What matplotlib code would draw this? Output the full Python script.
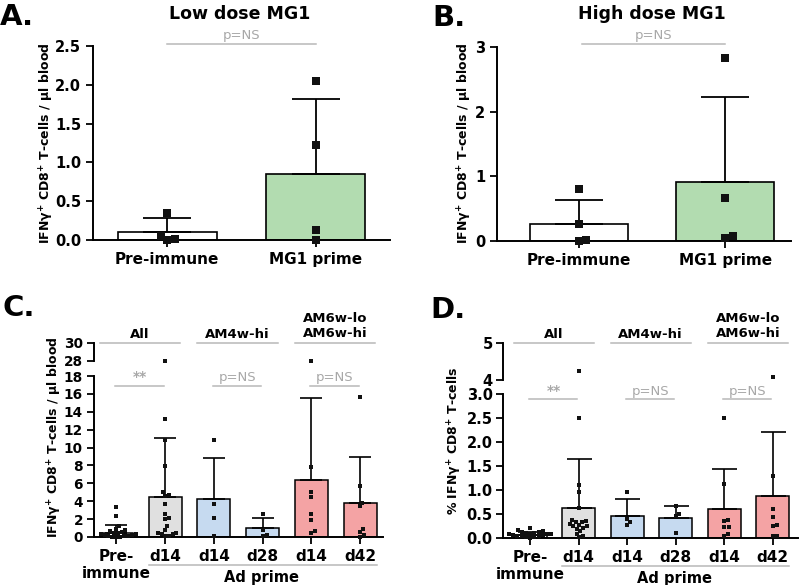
import numpy as np
import matplotlib
matplotlib.use("Agg")
import matplotlib.pyplot as plt
from matplotlib import transforms

plt.rcParams['font.family'] = ['DejaVu Sans']
plt.rcParams['font.weight'] = 'bold'
plt.rcParams['mathtext.fontset'] = 'custom'
plt.rcParams['mathtext.rm'] = 'DejaVu Sans:bold'
plt.rcParams['mathtext.it'] = 'DejaVu Sans:bold'
plt.rcParams['mathtext.bf'] = 'DejaVu Sans:bold'
plt.rcParams['mathtext.default'] = 'rm'

# ---------------- data ----------------
ab_categories = ['Pre-immune', 'MG1 prime']
ab_colors = ['white', '#b2dcb0']
a_title = 'Low dose MG1'
a_means = [0.10, 0.85]
a_sd = [0.18, 0.97]
a_points = [[0.35, 0.05, 0.0, 0.01], [2.05, 1.22, 0.13, 0.0]]
a_yticks = [0.0, 0.5, 1.0, 1.5, 2.0, 2.5]

b_title = 'High dose MG1'
b_means = [0.27, 0.91]
b_sd = [0.37, 1.31]
b_points = [[0.80, 0.27, 0.0, 0.01], [2.83, 0.66, 0.05, 0.07]]
b_yticks = [0, 1, 2, 3]

cd_categories = ['Pre-\nimmune', 'd14', 'd14', 'd28', 'd14', 'd42']
cd_colors = ['white', '#e0e0e0', '#c6daf0', '#c6daf0', '#f4a3a4', '#f4a3a4']
cd_groups = ['All', 'AM4w-hi', 'AM6w-lo\nAM6w-hi']
cd_sig = ['**', 'p=NS', 'p=NS']
cd_bottom_label = 'Ad prime'

c_means = [0.45, 4.45, 4.20, 0.97, 6.38, 3.77]
c_sd = [0.90, 6.65, 4.67, 1.12, 9.12, 5.21]
c_points = [
    [3.4, 2.4, 1.2, 0.85, 0.75, 0.62, 0.55, 0.5, 0.42, 0.38, 0.3, 0.27, 0.2, 0.16, 0.1, 0.07, 0.04, 0.02, 0.0],
    [28.0, 13.2, 10.9, 7.9, 5.0, 4.7, 4.6, 3.7, 2.6, 2.1, 2.0, 1.2, 0.8, 0.5, 0.45, 0.35, 0.3, 0.15, 0.1],
    [10.9, 3.66, 2.09, 0.15],
    [2.57, 0.78, 0.15, 0.26],
    [28.0, 7.83, 5.0, 4.47, 2.54, 1.94, 0.67, 0.4],
    [15.6, 5.74, 3.84, 3.47, 0.86, 0.52, 0.03, 0.2],
]
c_low_ticks = [0, 2, 4, 6, 8, 10, 12, 14, 16, 18]
c_up_ticks = [28, 30]

d_means = [0.075, 0.625, 0.47, 0.43, 0.62, 0.875]
d_sd = [0.05, 1.025, 0.34, 0.24, 0.82, 1.345]
d_points = [
    [0.22, 0.17, 0.15, 0.14, 0.13, 0.12, 0.11, 0.10, 0.10, 0.09, 0.08, 0.07, 0.06, 0.05, 0.05, 0.04, 0.03, 0.02, 0.01],
    [4.25, 2.5, 1.12, 0.97, 0.64, 0.38, 0.37, 0.35, 0.33, 0.30, 0.28, 0.25, 0.25, 0.22, 0.20, 0.15, 0.10, 0.05, 0.02],
    [0.97, 0.40, 0.33, 0.27],
    [0.68, 0.51, 0.46, 0.12],
    [2.5, 1.14, 0.39, 0.36, 0.23, 0.23, 0.10, 0.05],
    [4.07, 1.29, 0.60, 0.44, 0.27, 0.25, 0.04, 0.05],
]
d_low_ticks = [0.0, 0.5, 1.0, 1.5, 2.0, 2.5, 3.0]
d_up_ticks = [4, 5]

ylab_counts = 'IFNγ$^{+}$ CD8$^{+}$ T-cells / µl blood'
ylab_pct = '% IFNγ$^{+}$ CD8$^{+}$ T-cells'

# ---------------- layout helpers ----------------
W, H = 800, 585
fig = plt.figure(figsize=(W / 100, H / 100), dpi=100)
GRAY = '#b8b8b8'
TGRAY = '#a8a8a8'


def rect(l, t, r, b):
    return [l / W, 1 - b / H, (r - l) / W, (b - t) / H]


def fy(py):
    return 1 - py / H


def style(ax, size, pad=3.5):
    for s in ['top', 'right']:
        ax.spines[s].set_visible(False)
    for s in ['left', 'bottom']:
        ax.spines[s].set_linewidth(1.4)
    ax.tick_params(width=1.3, length=5, color='black')
    ax.tick_params(axis='y', pad=pad, labelsize=size)
    for lab in ax.get_yticklabels():
        lab.set_fontweight('bold')


def swarm(ax, xc, vals, diam):
    vals = np.asarray(vals, float)
    if len(vals) == 0:
        return vals
    T = ax.transData
    ypx = np.array([T.transform((xc, v))[1] for v in vals])
    order = np.argsort(ypx, kind='stable')
    placed = []
    offs = np.zeros(len(vals))
    for i in order:
        y = ypx[i]
        cands = [0.0]
        for xo, yo in placed:
            dy = abs(y - yo)
            if dy < diam:
                dx = np.sqrt(diam ** 2 - dy ** 2)
                cands += [xo + dx, xo - dx]
        cands.sort(key=lambda c: (round(abs(c), 6), -c))
        for c in cands:
            if all((c - xo) ** 2 + (y - yo) ** 2 >= diam ** 2 - 1e-6 for xo, yo in placed):
                offs[i] = c
                break
        placed.append((offs[i], y))
    unit = T.transform((1, 0))[0] - T.transform((0, 0))[0]
    return xc + offs / unit


def draw_points(ax_low, ax_up, xc, vals, top_low, ms, diam):
    low = [v for v in vals if v <= top_low]
    high = [v for v in vals if v > top_low]
    if low:
        ax_low.plot(swarm(ax_low, xc, low, diam), low, 's', color='#111111', ms=ms,
                    mec='#111111', mew=0, zorder=4, clip_on=False, ls='none')
    if high and ax_up is not None:
        ax_up.plot(swarm(ax_up, xc, high, diam), high, 's', color='#111111', ms=ms,
                   mec='#111111', mew=0, zorder=4, clip_on=False, ls='none')


# ---------------- panels A and B ----------------
def panel_ab(box, xlim, means, sd, points, yticks, title, title_x, ylab_x, sig_x0, sig_x1):
    ax = fig.add_axes(rect(*box))
    xs = np.arange(len(means))
    ax.set_xlim(*xlim)
    ax.set_ylim(yticks[0], yticks[-1])
    ax.bar(xs, means, width=0.67, color=ab_colors, edgecolor='black', linewidth=1.2, zorder=1)
    ax.errorbar(xs, means, yerr=[np.zeros(len(sd)), sd], fmt='none', ecolor='black',
                elinewidth=1.3, capsize=17, capthick=1.3, zorder=2)
    ax.set_yticks(yticks)
    ax.set_xticks(xs)
    ax.set_xticklabels(ab_categories, fontsize=11, fontweight='bold')
    style(ax, 10.5)
    for x, pts in zip(xs, points):
        draw_points(ax, None, x, pts, yticks[-1], 5.6, 7.5)
    blend = transforms.blended_transform_factory(ax.transData, fig.transFigure)
    ax.plot([sig_x0, sig_x1], [fy(44), fy(44)], transform=blend, color=GRAY, lw=1.1, clip_on=False)
    ax.text((sig_x0 + sig_x1) / 2, fy(36), 'p=NS', transform=blend, ha='center', va='center',
            fontsize=9.5, fontweight='normal', color=TGRAY)
    fig.text(title_x / W, fy(14), title, ha='center', va='center', fontsize=12.5, fontweight='bold')
    fig.text(ylab_x / W, fy(143), ylab_counts, rotation=90, ha='center', va='center', fontsize=9)
    return ax


panel_ab((93, 46, 390, 240), (-0.5, 1.5), a_means, a_sd, a_points, a_yticks,
         a_title, 240, 47, 0.0, 1.0)
panel_ab((497, 47, 791, 241), (-0.56, 1.45), b_means, b_sd, b_points, b_yticks,
         b_title, 652, 465, 0.02, 1.0)
fig.text(0 / W, fy(17), 'A.', ha='left', va='center', fontsize=21, fontweight='bold')
fig.text(432 / W, fy(18), 'B.', ha='left', va='center', fontsize=21, fontweight='bold')


# ---------------- panels C and D ----------------
def panel_cd(low_box, up_box, xlim, means, sd, points, low_ticks, up_ticks,
             ylab, ylab_x, ylab_y, sig_line_y, sig_text_y, bottom_line_y, capsize, ms, diam,
             pad, tsize):
    axl = fig.add_axes(rect(*low_box))
    axu = fig.add_axes(rect(*up_box))
    xs = np.arange(len(means))
    for a in (axl, axu):
        a.set_xlim(*xlim)
    axl.set_ylim(low_ticks[0], low_ticks[-1])
    axu.set_ylim(up_ticks[0], up_ticks[-1])
    axl.bar(xs, means, width=0.68, color=cd_colors, edgecolor='black', linewidth=1.1, zorder=1)
    axl.errorbar(xs, means, yerr=[np.zeros(len(sd)), sd], fmt='none', ecolor='black',
                 elinewidth=1.2, capsize=capsize, capthick=1.2, zorder=2)
    axl.set_yticks(low_ticks)
    axu.set_yticks(up_ticks)
    axl.set_xticks(xs)
    axl.set_xticklabels(cd_categories, fontsize=11, fontweight='bold', linespacing=1.15)
    style(axl, tsize, pad)
    style(axu, tsize, pad)
    axu.spines['bottom'].set_visible(False)
    axu.tick_params(bottom=False, labelbottom=False)
    axu.patch.set_alpha(0)
    axl.patch.set_alpha(0)
    for x, pts in zip(xs, points):
        draw_points(axl, axu, x, pts, low_ticks[-1], ms, diam)

    blend = transforms.blended_transform_factory(axl.transData, fig.transFigure)
    for g, lab in enumerate(cd_groups):
        l, r = 2 * g - 0.34, 2 * g + 1 + 0.31
        axl.plot([l, r], [fy(343.3)] * 2, transform=blend, color=GRAY, lw=1.1, clip_on=False)
        nl = lab.count('\n')
        axl.text((l + r) / 2, fy(334 - 8 * nl), lab, transform=blend, ha='center', va='center',
                 fontsize=9.5, fontweight='bold', linespacing=1.2)
        i, j = 2 * g, 2 * g + 1
        axl.plot([i - 0.02, j - 0.03], [fy(sig_line_y)] * 2, transform=blend, color=GRAY,
                 lw=1.1, clip_on=False)
        axl.text((i + j) / 2 - 0.02, fy(sig_text_y), cd_sig[g], transform=blend, ha='center',
                 va='center', fontsize=10 if cd_sig[g] == '**' else 9.5,
                 fontweight='bold' if cd_sig[g] == '**' else 'normal', color=TGRAY)
    axl.plot([1 - 0.34, 5 + 0.34], [fy(bottom_line_y)] * 2, transform=blend, color=GRAY,
             lw=1.1, clip_on=False)
    axl.text(2.97, fy(bottom_line_y + 12.5), cd_bottom_label, transform=blend, ha='center',
             va='center', fontsize=10.5, fontweight='bold')
    fig.text(ylab_x / W, fy(ylab_y), ylab, rotation=90, ha='center', va='center', fontsize=9)
    return axl, axu


panel_cd((94, 376, 383, 537), (94, 343, 383, 361), (-0.46, 5.47), c_means, c_sd, c_points,
         c_low_ticks, c_up_ticks, ylab_counts, 55, 437, 386, 377, 565, 8, 3.3, 4.0, 3.0, 9.8)
panel_cd((503, 394.3, 798, 538.3), (503, 343.3, 798, 380), (-0.56, 5.52), d_means, d_sd, d_points,
         d_low_ticks, d_up_ticks, ylab_pct, 455, 441, 399.3, 391, 566, 9, 3.5, 4.3, 2.5, 10.5)
fig.text(3 / W, fy(308), 'C.', ha='left', va='center', fontsize=21, fontweight='bold')
fig.text(430 / W, fy(310), 'D.', ha='left', va='center', fontsize=21, fontweight='bold')

fig.savefig('out.png', dpi=100)
